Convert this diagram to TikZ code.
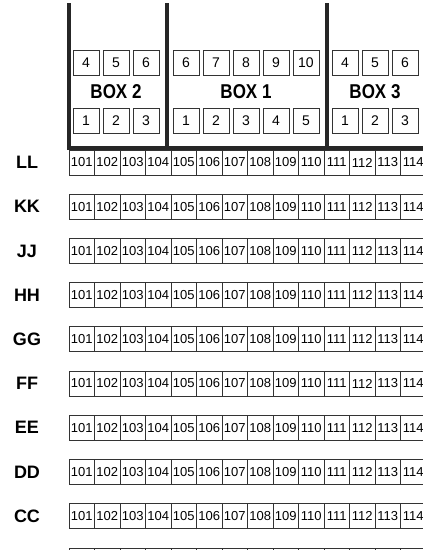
\documentclass[tikz,border=0pt]{standalone}
\usepackage{fontspec}
\setmainfont{Liberation Sans}
\newfontfamily\narrowfont{Liberation Sans}[FakeStretch=0.85]
\begin{document}
\begin{tikzpicture}[x=1pt, y=-1pt,
  wall/.style={line width=3.5pt, color=black!85},
  slot/.style={draw=black!80, line width=1pt, minimum width=26pt, minimum height=25pt, inner sep=0pt, font=\fontsize{14}{14}\selectfont},
  cell/.style={draw=black!80, line width=0.8pt, minimum width=25.5pt, minimum height=25pt, inner sep=0pt, font=\fontsize{13}{13}\selectfont},
  rowname/.style={font=\fontsize{18}{18}\selectfont\bfseries},
  boxname/.style={font=\narrowfont\fontsize{20}{20}\selectfont\bfseries}]
\useasboundingbox[fill=white] (0,0) rectangle (423,550);
% walls
\coordinate (w1) at (69,3);
\coordinate (w1b) at (69,148);
\coordinate (w2) at (167,3);
\coordinate (w2b) at (167,148);
\coordinate (w3) at (327,3);
\coordinate (w3b) at (327,148);
\coordinate (wr) at (426,148);
\draw[wall] (w1) -- (w1b) -- (wr);
\draw[wall] (w2) -- (w2b);
\draw[wall] (w3) -- (w3b);
% box 2
\foreach \k in {1,2,3} {
  \node[slot] (b2lo\k) at ({56+30*\k},121) {\k};
  \node[slot] (b2up\k) at ({56+30*\k},63) {\the\numexpr\k+3\relax};
}
\node[boxname] (box2) at (116,92) {BOX 2};
% box 1
\foreach \k in {1,...,5} {
  \node[slot] (b1lo\k) at ({156+30*\k},121) {\k};
  \node[slot] (b1up\k) at ({156+30*\k},63) {\the\numexpr\k+5\relax};
}
\node[boxname] (box1) at (246,92) {BOX 1};
% box 3
\foreach \k in {1,2,3} {
  \node[slot] (b3lo\k) at ({315+30*\k},121) {\k};
  \node[slot] (b3up\k) at ({315+30*\k},63) {\the\numexpr\k+3\relax};
}
\node[boxname] (box3) at (375,92) {BOX 3};
% rows
\foreach \name [count=\i from 0] in {LL,KK,JJ,HH,GG,FF,EE,DD,CC} {
  \pgfmathsetmacro\yc{162.5+44.2*\i}
  \node[rowname] (lbl\name) at (27,\yc) {\name};
  \foreach \c in {1,...,14}
    \node[cell] (\name-\c) at ({69+25.5*(\c-0.5)},\yc) {\the\numexpr100+\c\relax};
}
\foreach \c in {1,...,14}
  \node[cell] (BB-\c) at ({69+25.5*(\c-0.5)},560.5) {};
\end{tikzpicture}
\end{document}
